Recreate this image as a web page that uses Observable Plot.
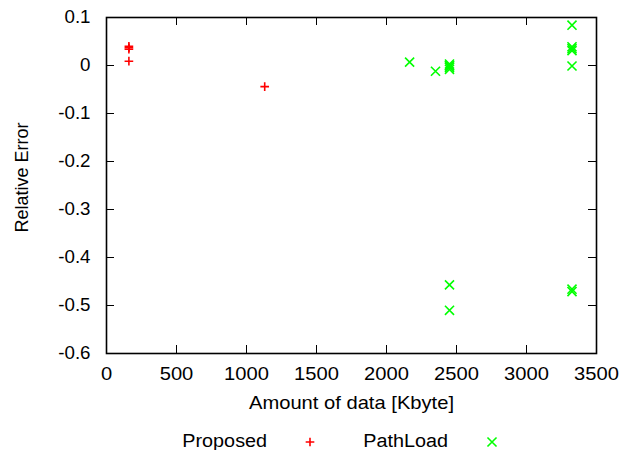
<!DOCTYPE html>
<html>
<head>
<meta charset="utf-8">
<script src="https://cdn.jsdelivr.net/npm/d3@7"></script>
<script src="https://cdn.jsdelivr.net/npm/@observablehq/plot@0.6"></script>
<style>
  html, body { margin: 0; padding: 0; background: #fff; }
  #wrap { width: 623px; position: relative; font-family: "Liberation Sans", Arial, sans-serif; }
  #legend { position: relative; width: 623px; height: 22px; font-size: 18px; color: #000; }
  #legend span, #legend svg { position: absolute; }
</style>
</head>
<body>
<div id="wrap"></div>
<script>
// ---- data ----
const proposedX = [160, 160, 160, 160, 1130];
const proposedY = [0.040, 0.037, 0.034, 0.009, -0.044];

const pathloadX = [2165, 2350, 2450, 2450, 2450, 2450, 2450, 2450, 2450, 3325, 3325, 3325, 3325, 3325, 3325, 3325];
const pathloadY = [0.007, -0.012, 0.003, -0.001, -0.004, -0.008, -0.457, -0.510, 0.000, 0.084, 0.039, 0.035, 0.031, -0.001, -0.466, -0.471];

const xTicks = [0, 500, 1000, 1500, 2000, 2500, 3000, 3500];
const yTicks = [0.1, 0, -0.1, -0.2, -0.3, -0.4, -0.5, -0.6];

const seriesNames = ["Proposed", "PathLoad"];
const seriesColors = ["#ff0000", "#00ff00"];

// ---- table ----
const points = [
  ...proposedX.map((x, i) => ({x, y: proposedY[i], s: seriesNames[0]})),
  ...pathloadX.map((x, i) => ({x, y: pathloadY[i], s: seriesNames[1]}))
];

const W = 623, H = 428;
const mL = 106, mR = 27, mT = 17, mB = 75;
const frameW = W - mL - mR, frameH = H - mT - mB;
const tickLen = 8;
const fs = 18;

const yFmt = d => (Math.abs(d) < 1e-9 ? "0" : d.toFixed(1));

const chart = Plot.plot({
  width: W,
  height: H,
  marginLeft: mL,
  marginRight: mR,
  marginTop: mT,
  marginBottom: mB,
  style: {fontFamily: '"Liberation Sans", Arial, sans-serif', fontSize: fs + "px", color: "#000", background: "#fff"},
  x: {domain: [0, 3500]},
  y: {domain: [-0.6, 0.1]},
  marks: [
    // inward ticks: bottom, top
    Plot.tickX(xTicks, {x: d => d, insetTop: frameH - tickLen, stroke: "#000", strokeWidth: 1}),
    Plot.tickX(xTicks, {x: d => d, insetBottom: frameH - tickLen, stroke: "#000", strokeWidth: 1}),
    // inward ticks: left, right
    Plot.tickY(yTicks, {y: d => d, insetRight: frameW - tickLen, stroke: "#000", strokeWidth: 1}),
    Plot.tickY(yTicks, {y: d => d, insetLeft: frameW - tickLen, stroke: "#000", strokeWidth: 1}),
    Plot.frame({stroke: "#000", strokeWidth: 1.6}),
    Plot.axisX(xTicks, {tickSize: 0, tickPadding: 14, label: null, fontSize: fs, tickFormat: d => String(d)}),
    Plot.axisY(yTicks, {tickSize: 0, tickPadding: 16, label: null, fontSize: fs, tickFormat: yFmt}),
    Plot.text(["Amount of data [Kbyte]"], {frameAnchor: "bottom", dy: 55, fontSize: fs, fill: "#000"}),
    Plot.text(["Relative Error"], {frameAnchor: "left", textAnchor: "middle", dx: -84, dy: -8, rotate: -90, fontSize: fs, fill: "#000"}),
    Plot.dot(points.filter(d => d.s === seriesNames[0]), {x: "x", y: "y", symbol: "plus", r: 2.9, stroke: seriesColors[0], strokeWidth: 1.6}),
    Plot.dot(points.filter(d => d.s === seriesNames[1]), {x: "x", y: "y", symbol: "times", r: 4.2, stroke: seriesColors[1], strokeWidth: 1.6})
  ]
});

// horizontal stretch of horizontal labels to mimic the reference's wider type
chart.querySelectorAll("text").forEach(t => {
  const tr = t.getAttribute("transform") || "";
  if (tr.includes("rotate")) return;
  const isYTick = t.getAttribute("text-anchor") === "end" || (t.parentNode && t.parentNode.getAttribute("text-anchor") === "end");
  t.setAttribute("transform", tr + (isYTick ? " scale(1.04,1)" : " scale(1.12,1)"));
});

const wrap = document.getElementById("wrap");
wrap.appendChild(chart);

// legend below the plot
const legend = document.createElement("div");
legend.id = "legend";
const labelRight = [267, 448];
const symCenter = [309.5, 491.5];
seriesNames.forEach((name, i) => {
  const span = document.createElement("span");
  span.textContent = name;
  span.style.right = (623 - labelRight[i]) + "px";
  span.style.top = "3px";
  span.style.lineHeight = "20px";
  span.style.display = "inline-block";
  span.style.transform = "scaleX(1.1)";
  span.style.transformOrigin = "right center";
  legend.appendChild(span);
  const s = d3.create("svg").attr("width", 14).attr("height", 14)
    .style("left", (symCenter[i] - 7) + "px").style("top", "7px");
  const r = i === 0 ? 2.9 : 4.2;
  s.append("path")
    .attr("d", d3.symbol(i === 0 ? d3.symbolPlus : d3.symbolTimes, Math.PI * r * r)())
    .attr("transform", "translate(7,7)")
    .attr("fill", "none").attr("stroke", seriesColors[i]).attr("stroke-width", 1.6);
  legend.appendChild(s.node());
});
wrap.appendChild(legend);
</script>
</body>
</html>
